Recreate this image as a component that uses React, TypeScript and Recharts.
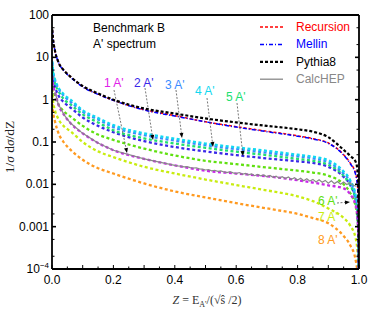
import React from 'react';
import { LineChart, Line, XAxis, YAxis } from 'recharts';

// Z = E_A'/(sqrt(s)/2) sample points
const Z_GRID = [0.001, 0.003, 0.01, 0.02, 0.04, 0.06, 0.1, 0.15, 0.2, 0.3, 0.4, 0.5, 0.6, 0.7, 0.8, 0.85, 0.9, 0.95, 0.97, 0.99, 0.997, 1.0];

const pythia8 = [45, 30, 14, 8, 4.8, 3.5, 2.1, 1.4, 1.0, 0.62, 0.47, 0.36, 0.29, 0.24, 0.2, 0.175, 0.13, 0.065, 0.048, 0.033, 0.015, 0.00001];
const recursion = [45, 30, 14, 8, 4.8, 3.5, 2.05, 1.35, 0.97, 0.58, 0.42, 0.3, 0.23, 0.18, 0.14, 0.12, 0.095, 0.05, 0.033, 0.017, 0.006, 0.00001];
const mellin = [44, 29, 14, 8, 4.7, 3.4, 2.0, 1.33, 0.96, 0.57, 0.41, 0.3, 0.225, 0.175, 0.137, 0.118, 0.093, 0.049, 0.032, 0.016, 0.006, 0.00001];

const a1 = [3.5, 2.4, 1.5, 0.8, 0.43, 0.28, 0.16, 0.095, 0.064, 0.04, 0.028, 0.021, 0.018, 0.0155, 0.0125, 0.011, 0.0095, 0.008, 0.006, 0.003, 0.001, 0.00001];
const a2 = [5.5, 3.5, 2.0, 1.3, 0.85, 0.65, 0.38, 0.24, 0.17, 0.105, 0.076, 0.06, 0.049, 0.041, 0.035, 0.032, 0.026, 0.015, 0.01, 0.004, 0.0012, 0.00001];
const a3 = [7.5, 5.0, 2.8, 1.9, 1.2, 0.9, 0.52, 0.34, 0.225, 0.145, 0.108, 0.084, 0.068, 0.056, 0.046, 0.041, 0.033, 0.018, 0.012, 0.0045, 0.0013, 0.00001];
const a4 = [8, 5.2, 3.0, 2.0, 1.3, 1.0, 0.56, 0.37, 0.25, 0.16, 0.12, 0.092, 0.075, 0.062, 0.05, 0.045, 0.037, 0.02, 0.013, 0.005, 0.0015, 0.00001];
const a5 = [6.5, 4.2, 2.4, 1.65, 1.0, 0.77, 0.45, 0.29, 0.19, 0.122, 0.092, 0.073, 0.059, 0.049, 0.04, 0.036, 0.029, 0.016, 0.01, 0.004, 0.0012, 0.00001];
const a6 = [3.5, 2.0, 1.2, 0.8, 0.52, 0.4, 0.24, 0.15, 0.112, 0.07, 0.048, 0.036, 0.03, 0.025, 0.021, 0.019, 0.016, 0.01, 0.0065, 0.0028, 0.0009, 0.00001];
const a7 = [1.8, 1.0, 0.55, 0.36, 0.23, 0.18, 0.1, 0.06, 0.044, 0.026, 0.018, 0.013, 0.0096, 0.0072, 0.0052, 0.004, 0.0027, 0.0016, 0.0011, 0.0005, 0.00016, 0.00001];
const a8 = [0.8, 0.55, 0.3, 0.17, 0.095, 0.066, 0.038, 0.024, 0.018, 0.0105, 0.0068, 0.0049, 0.0036, 0.0027, 0.002, 0.0016, 0.0012, 0.0006, 0.00038, 0.00015, 0.00005, 0.00001];

// CalcHEP histogram (noisy)
const calcZ = [0.01, 0.02, 0.04, 0.06, 0.1, 0.15, 0.2, 0.3,
  0.4, 0.41, 0.42, 0.43, 0.44, 0.45, 0.46, 0.47, 0.48, 0.49,
  0.5, 0.51, 0.52, 0.53, 0.54, 0.55, 0.56, 0.57, 0.58, 0.59,
  0.6, 0.61, 0.62, 0.63, 0.64, 0.65, 0.66, 0.67, 0.68, 0.69,
  0.7, 0.71, 0.72, 0.73, 0.74, 0.75, 0.76, 0.77, 0.78, 0.79,
  0.8, 0.81, 0.82, 0.83, 0.84, 0.85, 0.86, 0.87, 0.88, 0.89,
  0.9, 0.91, 0.92, 0.93, 0.94, 0.95, 0.96, 0.97, 0.98, 0.99];
const calcVals = [1.5, 0.8, 0.43, 0.28, 0.16, 0.095, 0.064, 0.04,
  0.028, 0.0272, 0.0268, 0.0259, 0.0262, 0.0248, 0.0243, 0.0246, 0.0232, 0.0228,
  0.0218, 0.0224, 0.0209, 0.0215, 0.0202, 0.0208, 0.0196, 0.0189, 0.0199, 0.0186,
  0.018, 0.019, 0.0172, 0.0181, 0.0167, 0.0176, 0.016, 0.0171, 0.0158, 0.0166,
  0.0151, 0.0162, 0.0147, 0.0156, 0.014, 0.0152, 0.0137, 0.0149, 0.0131, 0.0143,
  0.0127, 0.0139, 0.0122, 0.0136, 0.0119, 0.0131, 0.0114, 0.0128, 0.0112, 0.0124,
  0.0106, 0.0121, 0.0104, 0.0117, 0.0101, 0.0113, 0.0099, 0.0108, 0.0096, 0.009];

const xTicks = [0, 0.05, 0.1, 0.15, 0.2, 0.25, 0.3, 0.35, 0.4, 0.45, 0.5, 0.55, 0.6, 0.65, 0.7, 0.75, 0.8, 0.85, 0.9, 0.95, 1.0];
const yTicks = [1e-4, 2e-4, 5e-4, 1e-3, 2e-3, 5e-3, 0.01, 0.02, 0.05, 0.1, 0.2, 0.5, 1, 2, 5, 10, 20, 50, 100];
const yLabels: Record<string, string> = { '0.001': '0.001', '0.01': '0.01', '0.1': '0.1', '1': '1', '10': '10', '100': '100' };

const toPts = (vals: number[]) => Z_GRID.map((z, i) => ({ z, v: vals[i] }));
const calcPts = calcZ.map((z, i) => ({ z, v: calcVals[i] }));

const SANS = '"Liberation Sans", Arial, sans-serif';
const SERIF = '"Liberation Serif", "Times New Roman", serif';

const isMult = (v: number, step: number) => Math.abs(v / step - Math.round(v / step)) < 1e-6;
const isDecade = (v: number) => Math.abs(Math.log10(v) - Math.round(Math.log10(v))) < 1e-6;

const BottomTick = (p: any) => {
  const v = p.payload.value;
  const len = isMult(v, 0.1) ? 4 : 2.5;
  return (
    <g>
      <line x1={p.x} x2={p.x} y1={p.y} y2={p.y - len} stroke="#000" strokeWidth={1} />
      {isMult(v, 0.2) && (
        <text x={p.x} y={p.y + 15} textAnchor="middle" fontFamily={SANS} fontSize={12} fill="#000">{v.toFixed(1)}</text>
      )}
    </g>
  );
};

const TopTick = (p: any) => {
  const v = p.payload.value;
  const len = isMult(v, 0.1) ? 4 : 2.5;
  return <line x1={p.x} x2={p.x} y1={p.y} y2={p.y + len} stroke="#000" strokeWidth={1} />;
};

const LeftTick = (p: any) => {
  const v = p.payload.value;
  const major = isDecade(v);
  const key = String(v);
  return (
    <g>
      <line x1={p.x} x2={p.x + (major ? 4 : 2.5)} y1={p.y} y2={p.y} stroke="#000" strokeWidth={major ? 1.6 : 1} />
      {major && (v === 1e-4 ? (
        <text x={p.x - 3} y={p.y + 4} textAnchor="end" fontFamily={SANS} fontSize={12} fill="#000">
          10<tspan dy={-5} fontSize={8}>−4</tspan>
        </text>
      ) : (
        <text x={p.x - 3} y={p.y + 4} textAnchor="end" fontFamily={SANS} fontSize={12} fill="#000">{yLabels[key] ?? key}</text>
      ))}
    </g>
  );
};

const RightTick = (p: any) => {
  const major = isDecade(p.payload.value);
  return <line x1={p.x} x2={p.x - (major ? 4 : 2.5)} y1={p.y} y2={p.y} stroke="#000" strokeWidth={major ? 1.6 : 1} />;
};

const arrows = [
  { x1: 114, y1: 90, x2: 127, y2: 153 },
  { x1: 145, y1: 88, x2: 153, y2: 140 },
  { x1: 176, y1: 90, x2: 182, y2: 138 },
  { x1: 207, y1: 98, x2: 213, y2: 147 },
  { x1: 237, y1: 103, x2: 243, y2: 156 },
  { x1: 337, y1: 203, x2: 350, y2: 202 },
];

const Arrow = ({ x1, y1, x2, y2 }: { x1: number; y1: number; x2: number; y2: number }) => {
  const a = Math.atan2(y2 - y1, x2 - x1);
  const L = 5, W = 2;
  const bx = x2 - L * Math.cos(a), by = y2 - L * Math.sin(a);
  const pts = `${x2},${y2} ${bx - W * Math.sin(a)},${by + W * Math.cos(a)} ${bx + W * Math.sin(a)},${by - W * Math.cos(a)}`;
  return (
    <g>
      <line x1={x1} y1={y1} x2={bx} y2={by} stroke="#555" strokeWidth={0.8} strokeDasharray="2 1.5" />
      <polygon points={pts} fill="#000" />
    </g>
  );
};

const labels = [
  { t: "1 A'", x: 104, y: 87, c: '#e020e8' },
  { t: "2 A'", x: 134, y: 87, c: '#3a28e8' },
  { t: "3 A'", x: 165, y: 89, c: '#3a8cff' },
  { t: "4 A'", x: 195, y: 95, c: '#10d8f0' },
  { t: "5 A'", x: 226, y: 101, c: '#20e070' },
  { t: "6 A'", x: 318, y: 205, c: '#60e010' },
  { t: "7 A'", x: 318, y: 221, c: '#c8ec10' },
  { t: "8 A'", x: 318, y: 244, c: '#ff9a20' },
];

const legend = [
  { name: 'Recursion', color: '#ff0000', dash: '3 2', w: 1.5, text: '#ff0000' },
  { name: 'Mellin', color: '#0000ff', dash: '4 2 1 2', w: 1.5, text: '#0000ff' },
  { name: 'Pythia8', color: '#000000', dash: '3 2', w: 2.2, text: '#000000' },
  { name: 'CalcHEP', color: '#888888', dash: undefined, w: 1.3, text: '#888888' },
];

const dotted = { strokeWidth: 2.3, strokeDasharray: '3 2.5' };

export default function App() {
  return (
    <div style={{ position: 'absolute', left: 0, top: 0, width: 374, height: 315, background: '#fff' }}>
      <LineChart width={374} height={315} margin={{ top: 0, right: 0, left: 0, bottom: 0 }}>
        <XAxis dataKey="z" type="number" domain={[0, 1]} ticks={xTicks} allowDataOverflow height={46}
          axisLine={{ stroke: '#000', strokeWidth: 1.8 }} tickLine={false} tickSize={0} tickMargin={0} tick={BottomTick} interval={0} />
        <XAxis xAxisId="top" orientation="top" type="number" domain={[0, 1]} ticks={xTicks} allowDataOverflow height={15}
          axisLine={{ stroke: '#000', strokeWidth: 1.8 }} tickLine={false} tickSize={0} tickMargin={0} tick={TopTick} interval={0} />
        <YAxis scale="log" type="number" domain={[1e-4, 100]} ticks={yTicks} allowDataOverflow width={52}
          axisLine={{ stroke: '#000', strokeWidth: 1.8 }} tickLine={false} tickSize={0} tickMargin={0} tick={LeftTick} interval={0} />
        <YAxis yAxisId="right" orientation="right" scale="log" type="number" domain={[1e-4, 100]} ticks={yTicks} allowDataOverflow width={15}
          axisLine={{ stroke: '#000', strokeWidth: 1.8 }} tickLine={false} tickSize={0} tickMargin={0} tick={RightTick} interval={0} />

        <Line data={toPts(a8)} dataKey="v" type="monotone" stroke="#ff9a20" {...dotted} dot={false} isAnimationActive={false} />
        <Line data={toPts(a7)} dataKey="v" type="monotone" stroke="#c8ec10" {...dotted} dot={false} isAnimationActive={false} />
        <Line data={toPts(a6)} dataKey="v" type="monotone" stroke="#60e010" {...dotted} dot={false} isAnimationActive={false} />
        <Line data={toPts(a2)} dataKey="v" type="monotone" stroke="#3a28e8" {...dotted} dot={false} isAnimationActive={false} />
        <Line data={toPts(a5)} dataKey="v" type="monotone" stroke="#20e070" {...dotted} dot={false} isAnimationActive={false} />
        <Line data={toPts(a3)} dataKey="v" type="monotone" stroke="#3a8cff" {...dotted} dot={false} isAnimationActive={false} />
        <Line data={toPts(a4)} dataKey="v" type="monotone" stroke="#10d8f0" {...dotted} dot={false} isAnimationActive={false} />
        <Line data={toPts(a1)} dataKey="v" type="monotone" stroke="#c828e8" {...dotted} dot={false} isAnimationActive={false} />
        <Line data={calcPts} dataKey="v" type="linear" stroke="#888888" strokeWidth={1.2} dot={false} isAnimationActive={false} />
        <Line data={toPts(recursion)} dataKey="v" type="monotone" stroke="#ff0000" strokeWidth={1.5} strokeDasharray="3 2" dot={false} isAnimationActive={false} />
        <Line data={toPts(mellin)} dataKey="v" type="monotone" stroke="#0000ff" strokeWidth={1.5} strokeDasharray="4 2 1 2" dot={false} isAnimationActive={false} />
        <Line data={toPts(pythia8)} dataKey="v" type="monotone" stroke="#000000" strokeWidth={2.2} strokeDasharray="3 2" dot={false} isAnimationActive={false} />
      </LineChart>

      <svg width={374} height={315} style={{ position: 'absolute', left: 0, top: 0, pointerEvents: 'none' }}>
        <text x={93} y={32} fontFamily={SANS} fontSize={12} fill="#000">Benchmark B</text>
        <text x={93} y={48} fontFamily={SANS} fontSize={12} fill="#000">A' spectrum</text>

        {legend.map((l, i) => (
          <g key={l.name}>
            <line x1={260} x2={283} y1={27 + i * 17.4} y2={27 + i * 17.4} stroke={l.color} strokeWidth={l.w} strokeDasharray={l.dash} />
            <text x={296} y={31 + i * 17.4} fontFamily={SANS} fontSize={12} fill={l.text}>{l.name}</text>
          </g>
        ))}

        {arrows.map((a, i) => <Arrow key={i} {...a} />)}
        {labels.map((l) => (
          <text key={l.t} x={l.x} y={l.y} fontFamily={SANS} fontSize={12} fill={l.c}>{l.t}</text>
        ))}

        <text transform="translate(14,147) rotate(-90)" textAnchor="middle" fontFamily={SERIF} fontSize={13.5} fill="#222">
          1/<tspan fontStyle="italic">σ</tspan> d<tspan fontStyle="italic">σ</tspan>/dZ
        </text>
        <text x={207} y={304} textAnchor="middle" fontFamily={SERIF} fontSize={12} fill="#333">
          <tspan fontStyle="italic">Z</tspan> = E<tspan dy={3} fontSize={8}>A'</tspan><tspan dy={-3}>/(√ŝ /2)</tspan>
        </text>
      </svg>
    </div>
  );
}
